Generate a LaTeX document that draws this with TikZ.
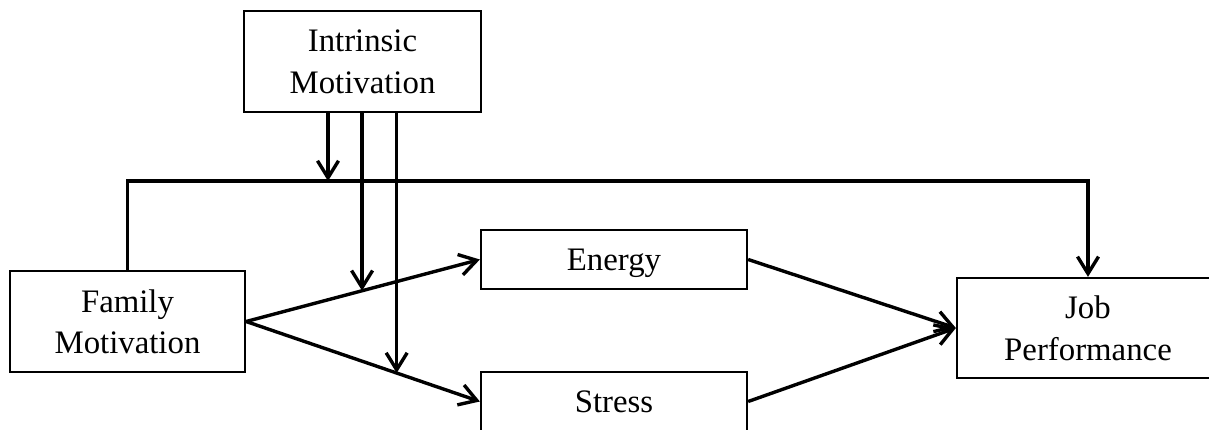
\documentclass[tikz,border=0pt]{standalone}
\usepackage{fontspec}
\setmainfont{Liberation Serif}
\usetikzlibrary{arrows.meta}

\begin{document}
\begin{tikzpicture}[x=0.5pt,y=-0.5pt,kasten/.style={draw,line width=1.15pt,inner sep=0pt,align=center,text depth=0pt,font=\fontsize{16.4}{20.8}\selectfont},pfeil/.style={line width=1.7pt,-{Straight Barb[length=8.5pt,width=10.5pt]}}]
\useasboundingbox (0,0) rectangle (1209,429);
\node [kasten,minimum width=118.5pt,minimum height=50.5pt] (IM) at (362.5,61.5){Intrinsic\\Motivation};
\node [kasten,minimum width=117.5pt,minimum height=50.5pt] (FM) at (127.5,321.5){Family\\Motivation};
\node [kasten,minimum width=133pt,minimum height=29.5pt] (EN) at (614,259.5){Energy};
\node [kasten,minimum width=133pt,minimum height=29.5pt] (ST) at (614,401.5){Stress};
\node [kasten,minimum width=131pt,minimum height=50pt] (JP) at (1088,328){Job\\Performance};
\coordinate (K) at (1088,181);
\coordinate (M1) at (328,181);
\path (FM.east) -- coordinate[pos=0.496] (M2) (EN.west);
\path (FM.east) -- coordinate[pos=0.644] (M3) (ST.west);
\draw[pfeil] (FM.north) |- (K) -- (JP.north);
\draw[pfeil] (FM.east) -- (EN.west);
\draw[pfeil] (FM.east) -- (ST.west);
\draw[pfeil] (EN.east) -- (JP.west);
\draw[pfeil] (ST.east) -- (JP.west);
\draw[pfeil] (IM.south -| M1) -- (M1);
\draw[pfeil] (IM.south -| M2) -- (M2);
\draw[pfeil] (IM.south -| M3) -- (M3);
\end{tikzpicture}
\end{document}
